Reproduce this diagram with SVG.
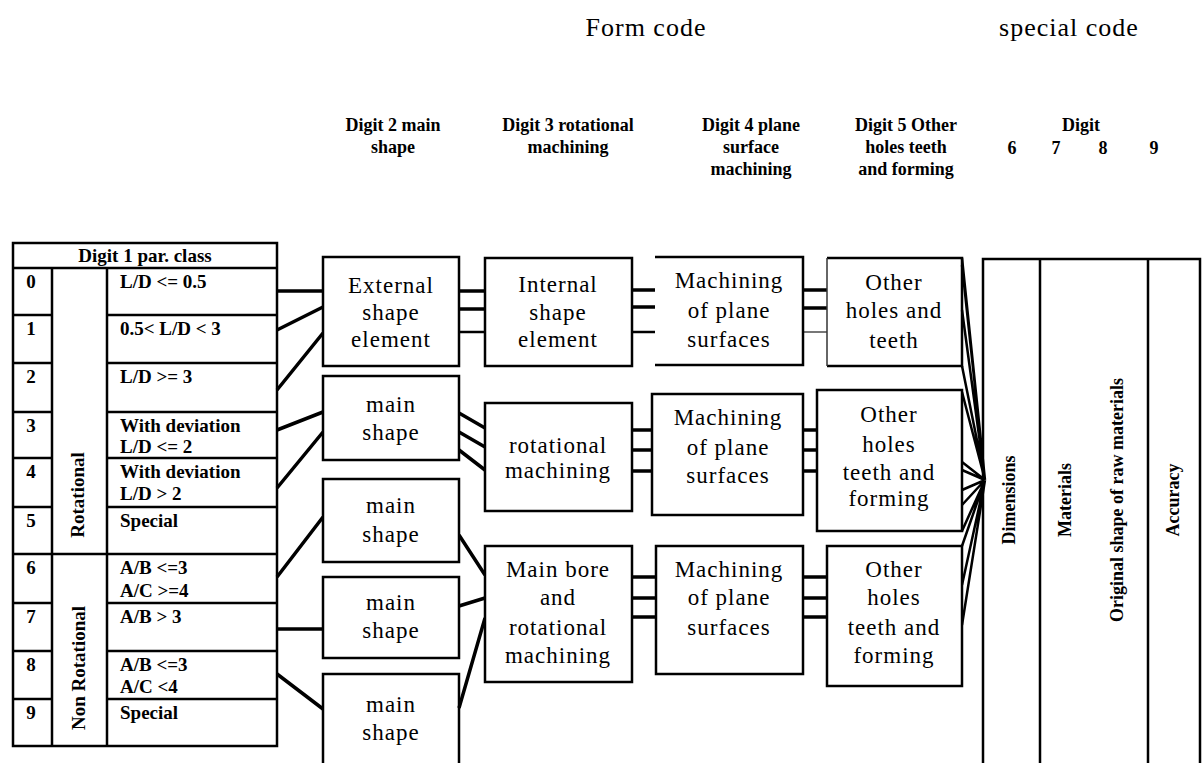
<svg xmlns="http://www.w3.org/2000/svg" width="1202" height="763" viewBox="0 0 1202 763">
<style>
.ln{fill:none;stroke:#000;stroke-width:2.5}
.box{fill:#fff;stroke:#000;stroke-width:2.5}
.cn{fill:none;stroke:#000;stroke-width:3.5}
.cnt{fill:none;stroke:#000;stroke-width:2.5}
.b{font-family:"Liberation Serif",serif;font-weight:bold;font-size:19px;fill:#000}
.bm{font-family:"Liberation Serif",serif;font-weight:bold;font-size:19px;fill:#000;text-anchor:middle}
.hd{font-family:"Liberation Serif",serif;font-weight:bold;font-size:18px;fill:#000;text-anchor:middle}
.rt{font-family:"Liberation Serif",serif;font-weight:bold;font-size:18px;fill:#000;text-anchor:middle}
.t{font-family:"Liberation Serif",serif;font-size:23px;letter-spacing:1px;fill:#000;text-anchor:middle}
.h{font-family:"Liberation Serif",serif;font-size:26px;letter-spacing:1px;fill:#000;text-anchor:middle}
</style>
<rect width="1202" height="763" fill="#fff"/>

<g id="titles">
<text class="h" x="646" y="36">Form code</text>
<text class="h" x="1069" y="36">special code</text>
</g>

<g id="headers">
<text class="hd" x="393" y="131">Digit 2 main</text>
<text class="hd" x="393" y="153">shape</text>
<text class="hd" x="568" y="131">Digit 3 rotational</text>
<text class="hd" x="568" y="153">machining</text>
<text class="hd" x="751" y="131">Digit 4 plane</text>
<text class="hd" x="751" y="153">surface</text>
<text class="hd" x="751" y="175">machining</text>
<text class="hd" x="906" y="131">Digit 5  Other</text>
<text class="hd" x="906" y="153">holes teeth</text>
<text class="hd" x="906" y="175">and forming</text>
<text class="hd" x="1081" y="131">Digit</text>
<text class="hd" x="1012" y="154">6</text>
<text class="hd" x="1056" y="154">7</text>
<text class="hd" x="1103" y="154">8</text>
<text class="hd" x="1154" y="154">9</text>
</g>

<g id="digit1-table">
<rect class="ln" x="13" y="243" width="264" height="503"/>
<line class="ln" x1="13" y1="268" x2="277" y2="268"/>
<line class="ln" x1="52" y1="268" x2="52" y2="746"/>
<line class="ln" x1="107" y1="268" x2="107" y2="746"/>
<path class="ln" d="M13 315H52M107 315H277M13 363H52M107 363H277M13 412H52M107 412H277M13 458H52M107 458H277M13 507H52M107 507H277M13 554H277M13 603H52M107 603H277M13 651H52M107 651H277M13 699H52M107 699H277"/>
<text class="bm" x="145" y="262">Digit 1 par. class</text>
<text class="bm" x="31" y="288">0</text>
<text class="bm" x="31" y="335">1</text>
<text class="bm" x="31" y="383">2</text>
<text class="bm" x="31" y="432">3</text>
<text class="bm" x="31" y="478">4</text>
<text class="bm" x="31" y="527">5</text>
<text class="bm" x="31" y="574">6</text>
<text class="bm" x="31" y="623">7</text>
<text class="bm" x="31" y="671">8</text>
<text class="bm" x="31" y="719">9</text>
<text class="b" x="120" y="288">L/D &lt;= 0.5</text>
<text class="b" x="120" y="335">0.5&lt; L/D &lt; 3</text>
<text class="b" x="120" y="383">L/D &gt;= 3</text>
<text class="b" x="120" y="432">With deviation</text>
<text class="b" x="120" y="453">L/D &lt;= 2</text>
<text class="b" x="120" y="478">With deviation</text>
<text class="b" x="120" y="500">L/D &gt; 2</text>
<text class="b" x="120" y="527">Special</text>
<text class="b" x="120" y="574">A/B &lt;=3</text>
<text class="b" x="120" y="597">A/C &gt;=4</text>
<text class="b" x="120" y="623">A/B &gt; 3</text>
<text class="b" x="120" y="671">A/B &lt;=3</text>
<text class="b" x="120" y="693">A/C &lt;4</text>
<text class="b" x="120" y="719">Special</text>
<text class="bm" transform="translate(84,495) rotate(-90)">Rotational</text>
<text class="bm" transform="translate(85,668) rotate(-90)">Non Rotational</text>
</g>

<g id="connectors">
<path class="cn" d="M277 291L323 291M277 330L323 307M277 390L323 333M277 430L323 412M277 488L323 432M277 577L323 517M277 629L323 629M277 674L323 709"/>
<path class="cn" d="M459 291H485M459 309H485M459 413L485 428M459 432L485 447M459 450L485 470M459 535L485 575M459 606L485 598M459 708L485 618"/>
<path class="cnt" d="M459 332H485"/>
<path class="cn" d="M632 290H655M632 307H655M632 430H652M632 450H652M632 471H652M632 577H656M632 598H656M632 617H656"/>
<path class="cnt" d="M632 332H655"/>
<path class="cn" d="M803 290H827M803 308H827M803 430H817M803 450H817M803 471H817M803 577H827M803 598H827M803 617H827"/>
<path fill="none" stroke="#777" stroke-width="2" d="M803 332H827"/>
<path class="cnt" d="M962 258L985 480M962 265L985 480M962 310L985 480M962 366L985 480M962 392L985 480M962 462L985 480M962 470L985 480M962 490L985 480M962 505L985 480M962 531L985 480M962 546L985 480M962 585L985 480M962 625L985 480"/>
</g>

<g id="d2-external">
<rect class="box" x="323" y="257" width="136" height="109"/>
<text class="t" x="391" y="293">External</text>
<text class="t" x="391" y="320">shape</text>
<text class="t" x="391" y="347">element</text>
</g>
<g id="d2-main1">
<rect class="box" x="323" y="376" width="136" height="84"/>
<text class="t" x="391" y="412">main</text>
<text class="t" x="391" y="440">shape</text>
</g>
<g id="d2-main2">
<rect class="box" x="323" y="479" width="136" height="83"/>
<text class="t" x="391" y="513">main</text>
<text class="t" x="391" y="542">shape</text>
</g>
<g id="d2-main3">
<rect class="box" x="323" y="577" width="136" height="81"/>
<text class="t" x="391" y="610">main</text>
<text class="t" x="391" y="638">shape</text>
</g>
<g id="d2-main4">
<path class="ln" d="M323 770V674H459V770"/>
<text class="t" x="391" y="712">main</text>
<text class="t" x="391" y="740">shape</text>
</g>

<g id="d3-internal">
<rect class="box" x="485" y="258" width="147" height="108"/>
<text class="t" x="558" y="292">Internal</text>
<text class="t" x="558" y="320">shape</text>
<text class="t" x="558" y="347">element</text>
</g>
<g id="d3-rotational">
<rect class="box" x="485" y="403" width="147" height="108"/>
<text class="t" x="558" y="453">rotational</text>
<text class="t" x="558" y="478">machining</text>
</g>
<g id="d3-mainbore">
<rect class="box" x="485" y="546" width="147" height="136"/>
<text class="t" x="558" y="577">Main bore</text>
<text class="t" x="558" y="605">and</text>
<text class="t" x="558" y="635">rotational</text>
<text class="t" x="558" y="663">machining</text>
</g>

<g id="d4-plane1">
<path class="ln" d="M655 257H803V365H655"/>
<text class="t" x="729" y="288">Machining</text>
<text class="t" x="729" y="318">of plane</text>
<text class="t" x="729" y="347">surfaces</text>
</g>
<g id="d4-plane2">
<rect class="box" x="652" y="394" width="151" height="121"/>
<text class="t" x="728" y="425">Machining</text>
<text class="t" x="728" y="455">of plane</text>
<text class="t" x="728" y="483">surfaces</text>
</g>
<g id="d4-plane3">
<rect class="box" x="656" y="546" width="147" height="128"/>
<text class="t" x="729" y="577">Machining</text>
<text class="t" x="729" y="605">of plane</text>
<text class="t" x="729" y="635">surfaces</text>
</g>

<g id="d5-other1">
<path class="ln" d="M827 258H962V366H827"/>
<path fill="none" stroke="#333" stroke-width="1.5" d="M827 258V366"/>
<text class="t" x="894" y="290">Other</text>
<text class="t" x="894" y="318">holes and</text>
<text class="t" x="894" y="348">teeth</text>
</g>
<g id="d5-other2">
<rect class="box" x="817" y="390" width="145" height="141"/>
<text class="t" x="889" y="422">Other</text>
<text class="t" x="889" y="452">holes</text>
<text class="t" x="889" y="480">teeth and</text>
<text class="t" x="889" y="506">forming</text>
</g>
<g id="d5-other3">
<rect class="box" x="827" y="546" width="135" height="140"/>
<text class="t" x="894" y="577">Other</text>
<text class="t" x="894" y="605">holes</text>
<text class="t" x="894" y="635">teeth and</text>
<text class="t" x="894" y="663">forming</text>
</g>

<g id="special-table">
<path class="ln" d="M983 770V259H1200V770M1040 259V770M1148 259V770"/>
<text class="rt" transform="translate(1015,500) rotate(-90)">Dimensions</text>
<text class="rt" transform="translate(1071,500) rotate(-90)">Materials</text>
<text class="rt" transform="translate(1123,500) rotate(-90)">Original shape of raw materials</text>
<text class="rt" transform="translate(1179,500) rotate(-90)">Accuracy</text>
</g>
</svg>
